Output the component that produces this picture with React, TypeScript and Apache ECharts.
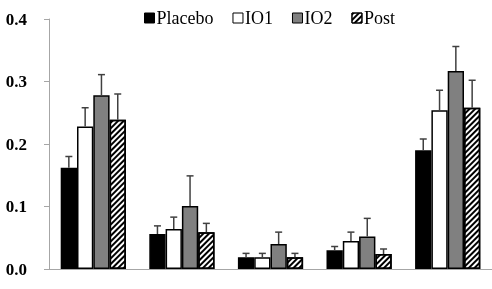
import React, { useEffect, useRef } from "react";
import * as echarts from "echarts";

const categories = ["1", "2", "3", "4", "5"];
const seriesNames = ["Placebo", "IO1", "IO2", "Post"];
const placeboMean = [0.162, 0.056, 0.019, 0.030, 0.190];
const placeboErr = [0.018, 0.013, 0.006, 0.006, 0.018];
const io1Mean = [0.228, 0.064, 0.019, 0.045, 0.254];
const io1Err = [0.030, 0.019, 0.006, 0.014, 0.032];
const io2Mean = [0.278, 0.101, 0.040, 0.052, 0.317];
const io2Err = [0.033, 0.048, 0.019, 0.029, 0.039];
const postMean = [0.239, 0.059, 0.019, 0.024, 0.258];
const postErr = [0.041, 0.014, 0.006, 0.008, 0.044];
const yTicks = [0, 0.1, 0.2, 0.3, 0.4];

const means = [placeboMean, io1Mean, io2Mean, postMean];
const errs = [placeboErr, io1Err, io2Err, postErr];

const BAR_W = 16.3;
const FONT = "'Liberation Serif', 'Times New Roman', serif";

export default function App() {
  const ref = useRef<HTMLDivElement>(null);
  useEffect(() => {
    document.body.style.margin = "0";
    const chart = echarts.init(ref.current!, null, { renderer: "svg" });
    const base = { borderColor: "#000", borderWidth: 1.5 };
    const styles: any[] = [
      { ...base, color: "#000" },
      { ...base, color: "#fff" },
      { ...base, color: "#808080" },
      {
        ...base,
        color: "#fff",
        decal: {
          symbol: "rect",
          symbolSize: 1,
          color: "#000",
          backgroundColor: "#fff",
          dashArrayX: [1, 0],
          dashArrayY: [1.6, 1.8],
          rotation: -Math.PI / 4,
        },
      },
    ];
    const bars = seriesNames.map((name, i) => ({
      name,
      type: "bar",
      barWidth: BAR_W,
      barGap: "0%",
      data: means[i],
      itemStyle: styles[i],
      z: 2,
    }));
    const errSeries = seriesNames.map((name, i) => ({
      name: name + "-err",
      type: "custom",
      z: 5,
      data: categories.map((_, k) => [k, means[i][k], means[i][k] + errs[i][k]]),
      renderItem: (params: any, api: any) => {
        const cat = api.value(0);
        const lo = api.coord([cat, api.value(1)]);
        const hi = api.coord([cat, api.value(2)]);
        const x = lo[0] + (i - 1.5) * BAR_W;
        const st = { stroke: "#404040", lineWidth: 1.5 };
        return {
          type: "group",
          children: [
            { type: "line", shape: { x1: x, y1: lo[1], x2: x, y2: hi[1] }, style: st },
            { type: "line", shape: { x1: x - 3.5, y1: hi[1], x2: x + 3.5, y2: hi[1] }, style: st },
          ],
        };
      },
    }));
    chart.setOption({
      animation: false,
      legend: {
        data: seriesNames,
        icon: "rect",
        left: 144,
        top: 9,
        padding: 0,
        itemWidth: 10,
        itemHeight: 10,
        itemGap: 19,
        itemStyle: { borderWidth: 1 },
        textStyle: { fontFamily: FONT, fontSize: 18, color: "#000", padding: [0, 0, 0, -3] },
      },
      grid: { left: 49, right: 0, top: 19, bottom: 20 },
      xAxis: {
        type: "category",
        data: categories,
        axisLine: { lineStyle: { color: "#a6a6a6", width: 1 } },
        axisTick: { show: false },
        axisLabel: { show: false },
      },
      yAxis: {
        type: "value",
        min: yTicks[0],
        max: yTicks[yTicks.length - 1],
        interval: 0.1,
        axisLine: { show: true, lineStyle: { color: "#a6a6a6", width: 1 } },
        axisTick: { show: true, length: 5, lineStyle: { color: "#a6a6a6" } },
        splitLine: { show: false },
        axisLabel: {
          margin: 22,
          fontFamily: FONT,
          fontSize: 17,
          fontWeight: "bold",
          color: "#000",
          formatter: (v: number) => v.toFixed(1),
        },
      },
      series: [...bars, ...errSeries],
    });
    return () => chart.dispose();
  }, []);
  return <div ref={ref} style={{ position: "fixed", left: 0, top: 0, width: 492, height: 289 }} />;
}
